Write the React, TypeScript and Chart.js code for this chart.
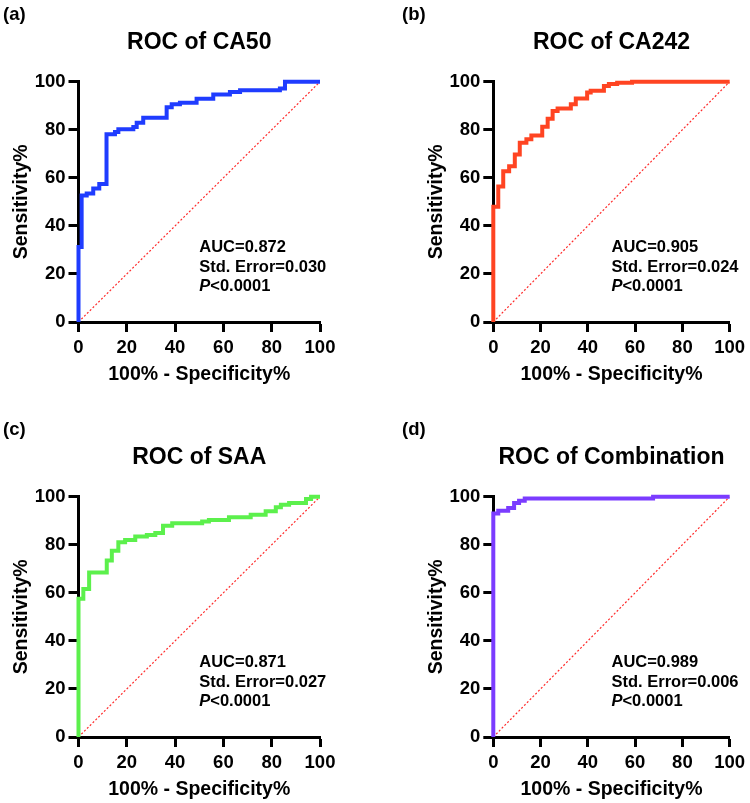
import React, { useEffect, useRef } from 'react';
import { Chart, registerables } from 'chart.js';

Chart.register(...registerables);

const FONT = '"Liberation Sans", Arial, Helvetica, sans-serif';

// ROC coordinates: 100% - specificity (x) and sensitivity (y), in percent.
// Each pair marks where the curve rises to a new sensitivity level.
const ca50Fpr = [0, 0, 1.3, 3.4, 6.1, 8.6, 11.6, 15.1, 16.5, 22.7, 24.1, 26.8, 36.5, 38.6, 42.0, 48.9, 55.8, 62.7, 66.9, 83.4, 85.5, 100];
const ca50Sens = [0, 31.2, 52.6, 53.5, 55.6, 57.4, 78.1, 79.1, 80.2, 81.2, 82.9, 85.0, 89.4, 90.6, 91.2, 92.9, 94.7, 95.7, 96.4, 97.2, 100, 100];

const ca242Fpr = [0, 0, 2.1, 4.2, 6.7, 9.1, 11.2, 14.0, 16.1, 20.7, 23.0, 25.1, 27.2, 32.8, 34.9, 39.7, 41.2, 46.8, 48.9, 52.4, 58.7, 100];
const ca242Sens = [0, 48.0, 56.4, 62.7, 64.8, 69.7, 74.6, 76.0, 77.6, 81.3, 84.6, 87.8, 88.8, 90.6, 93.0, 95.5, 96.2, 98.2, 99.0, 99.6, 100, 100];

const saaFpr = [0, 0, 2.0, 4.4, 11.7, 13.8, 16.5, 19.3, 23.5, 28.3, 31.8, 35.0, 38.8, 51.2, 54.0, 62.3, 71.3, 77.5, 81.7, 83.8, 87.2, 94.2, 96.3, 100];
const saaSens = [0, 57.5, 61.6, 68.5, 73.4, 77.5, 81.0, 82.0, 83.4, 84.1, 84.9, 87.9, 89.0, 89.7, 90.3, 91.4, 92.5, 93.9, 95.6, 96.7, 97.4, 99.0, 100, 100];

const comboFpr = [0, 0, 2.1, 6.3, 8.8, 10.9, 13.3, 67.6, 100];
const comboSens = [0, 93.0, 94.2, 95.3, 97.4, 98.3, 99.3, 100, 100];

// Reference line of a non-informative test
const chanceLine = [0, 100];

const panelTags = ['(a)', '(b)', '(c)', '(d)'];
const panelTitles = ['ROC of CA50', 'ROC of CA242', 'ROC of SAA', 'ROC of Combination'];
const aucValues = ['0.872', '0.905', '0.871', '0.989'];
const stdErrors = ['0.030', '0.024', '0.027', '0.006'];
const pValues = ['<0.0001', '<0.0001', '<0.0001', '<0.0001'];
const axisTicks = [0, 20, 40, 60, 80, 100];

type PanelProps = {
  index: number;
  fpr: number[];
  sens: number[];
  color: string;
  left: number;
  top: number;
  yAxisWidth: number;
  rightPad: number;
  yTitlePad: number;
  tagX: number;
};

const W = 375;
const H = 388;

function RocPanel(p: PanelProps) {
  const ref = useRef<HTMLCanvasElement | null>(null);

  useEffect(() => {
    const canvas = ref.current;
    if (!canvas) return;

    const textPlugin = {
      id: 'rocText',
      afterDraw(chart: any) {
        const ctx = chart.ctx as CanvasRenderingContext2D;
        const xs = chart.scales.x;
        const ys = chart.scales.y;
        ctx.save();
        ctx.fillStyle = '#000';
        ctx.textBaseline = 'alphabetic';
        ctx.textAlign = 'left';

        // panel tag
        ctx.font = `bold 18.5px ${FONT}`;
        ctx.fillText(panelTags[p.index], p.tagX, 19.5);

        // statistics block
        const x0 = xs.getPixelForValue(50);
        const y0 = ys.getPixelForValue(29);
        const gap = 19.2;
        ctx.font = `bold 16.5px ${FONT}`;
        ctx.fillText(`AUC=${aucValues[p.index]}`, x0, y0);
        ctx.fillText(`Std. Error=${stdErrors[p.index]}`, x0, y0 + gap);
        ctx.font = `italic bold 16.5px ${FONT}`;
        ctx.fillText('P', x0, y0 + 2 * gap);
        const pw = ctx.measureText('P').width;
        ctx.font = `bold 16.5px ${FONT}`;
        ctx.fillText(pValues[p.index], x0 + pw, y0 + 2 * gap);
        ctx.restore();
      },
    };

    const tickFont = { family: FONT, size: 18.5, weight: 'bold' as const };
    const titleFont = { family: FONT, size: 19.5, weight: 'bold' as const };

    const chart = new Chart(canvas, {
      type: 'scatter',
      data: {
        datasets: [
          {
            data: p.fpr.map((x, i) => ({ x, y: p.sens[i] })),
            showLine: true,
            stepped: 'before',
            borderColor: p.color,
            backgroundColor: p.color,
            borderWidth: 4,
            pointRadius: 0,
            fill: false,
            clip: false as any,
            borderJoinStyle: 'miter',
          },
          {
            data: chanceLine.map((v) => ({ x: v, y: v })),
            showLine: true,
            borderColor: '#ff2a2a',
            borderWidth: 1.2,
            borderDash: [2, 2],
            pointRadius: 0,
            fill: false,
          },
        ],
      },
      options: {
        animation: false,
        responsive: false,
        maintainAspectRatio: false,
        devicePixelRatio: 1,
        layout: { padding: { left: 0, top: 0, right: p.rightPad, bottom: 0 } },
        plugins: {
          legend: { display: false },
          tooltip: { enabled: false },
          title: {
            display: true,
            text: panelTitles[p.index],
            fullSize: false,
            color: '#000',
            font: { family: FONT, size: 23, weight: 'bold' },
            padding: { top: 28.7, bottom: 25.4 },
          },
        },
        scales: {
          x: {
            type: 'linear',
            min: 0,
            max: 100,
            afterFit: (s: any) => {
              s.height = 66;
            },
            afterBuildTicks: (s: any) => {
              s.ticks = axisTicks.map((v) => ({ value: v }));
            },
            ticks: { autoSkip: false, maxRotation: 0, color: '#000', font: tickFont, padding: 4.9 },
            grid: { drawOnChartArea: false, drawTicks: true, tickLength: 10, tickWidth: 3, tickColor: '#000' },
            border: { display: true, width: 3, color: '#000' },
            title: { display: true, text: '100% - Specificity%', color: '#000', font: titleFont, padding: { top: 0, bottom: 1.8 } },
          },
          y: {
            type: 'linear',
            min: 0,
            max: 100,
            afterFit: (s: any) => {
              s.width = p.yAxisWidth;
            },
            afterBuildTicks: (s: any) => {
              s.ticks = axisTicks.map((v) => ({ value: v }));
            },
            ticks: { autoSkip: false, color: '#000', font: tickFont, padding: 3 },
            grid: { drawOnChartArea: false, drawTicks: true, tickLength: 10, tickWidth: 3, tickColor: '#000' },
            border: { display: true, width: 3, color: '#000' },
            title: { display: true, text: 'Sensitivity%', color: '#000', font: titleFont, padding: { top: p.yTitlePad, bottom: 0 } },
          },
        },
      } as any,
      plugins: [textPlugin],
    });

    return () => chart.destroy();
  }, [p]);

  return (
    <canvas
      ref={ref}
      width={W}
      height={H}
      style={{ position: 'absolute', left: p.left, top: p.top, width: W, height: H }}
    />
  );
}

const panels: PanelProps[] = [
  { index: 0, fpr: ca50Fpr, sens: ca50Sens, color: '#1f3cff', left: 0, top: 0, yAxisWidth: 78.5, rightPad: 55, yTitlePad: 9.8, tagX: 3 },
  { index: 1, fpr: ca242Fpr, sens: ca242Sens, color: '#ff4422', left: 375, top: 0, yAxisWidth: 118.3, rightPad: 16.7, yTitlePad: 49.6, tagX: 27 },
  { index: 2, fpr: saaFpr, sens: saaSens, color: '#5cf04c', left: 0, top: 415, yAxisWidth: 78.5, rightPad: 55, yTitlePad: 9.8, tagX: 3 },
  { index: 3, fpr: comboFpr, sens: comboSens, color: '#7b3cff', left: 375, top: 415, yAxisWidth: 118.3, rightPad: 16.7, yTitlePad: 49.6, tagX: 27 },
];

export default function App() {
  return (
    <div style={{ position: 'absolute', left: 0, top: 0, width: 750, height: 803, background: '#fff', overflow: 'hidden' }}>
      {panels.map((p) => (
        <RocPanel key={p.index} {...p} />
      ))}
    </div>
  );
}
